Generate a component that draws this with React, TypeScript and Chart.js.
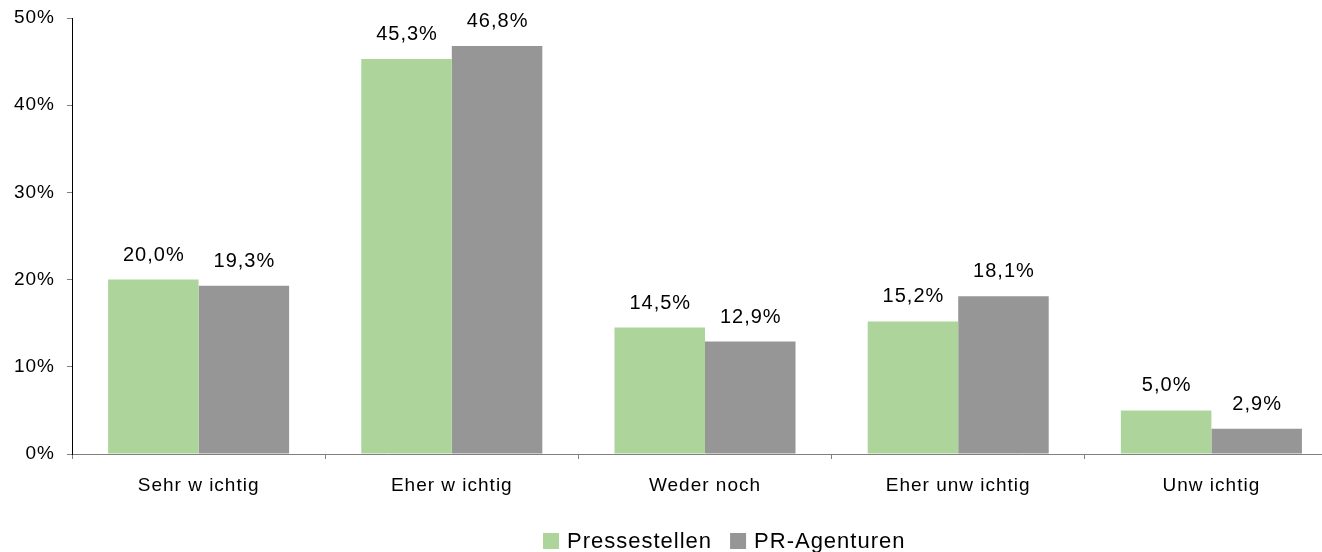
import React, { useEffect, useRef } from "react";
import { Chart, registerables } from "chart.js";
Chart.register(...registerables);

const categories = ["Sehr w ichtig", "Eher w ichtig", "Weder noch", "Eher unw ichtig", "Unw ichtig"];
const seriesNames = ["Pressestellen", "PR-Agenturen"];
const pressestellen = [20.0, 45.3, 14.5, 15.2, 5.0];
const prAgenturen = [19.3, 46.8, 12.9, 18.1, 2.9];
const yMax = 50;
const yStep = 10;

const FONT = "'Liberation Sans', Arial, sans-serif";
const GREEN = "#add59b";
const GRAY = "#969696";

const fmt = (v: number) => v.toFixed(1).replace(".", ",") + "%";

const spacing = {
  id: "spacing",
  beforeDraw(chart: any) {
    (chart.ctx as any).letterSpacing = "1px";
  },
  afterDraw(chart: any) {
    (chart.ctx as any).letterSpacing = "0px";
  },
};

const valueLabels = {
  id: "valueLabels",
  afterDatasetsDraw(chart: any) {
    const ctx = chart.ctx;
    ctx.save();
    ctx.font = `20px ${FONT}`;
    (ctx as any).letterSpacing = "1px";
    ctx.fillStyle = "#000";
    ctx.textAlign = "center";
    ctx.textBaseline = "alphabetic";
    chart.data.datasets.forEach((ds: any, i: number) => {
      const meta = chart.getDatasetMeta(i);
      meta.data.forEach((el: any, j: number) => {
        ctx.fillText(fmt(ds.data[j]), el.x + 0.5, el.y - 19);
      });
    });
    ctx.restore();
  },
};

const customLegend = {
  id: "customLegend",
  afterDraw(chart: any) {
    const ctx = chart.ctx;
    ctx.save();
    ctx.font = `22px ${FONT}`;
    (ctx as any).letterSpacing = "1px";
    ctx.textBaseline = "middle";
    ctx.textAlign = "left";
    let x = 543;
    const cy = 541;
    chart.data.datasets.forEach((ds: any) => {
      ctx.fillStyle = ds.backgroundColor;
      ctx.fillRect(x, cy - 8, 16, 16);
      ctx.fillStyle = "#000";
      ctx.fillText(ds.label, x + 24, cy + 1);
      x += 24 + ctx.measureText(ds.label).width + 18;
    });
    ctx.restore();
  },
};

export default function App() {
  const ref = useRef<HTMLCanvasElement>(null);
  useEffect(() => {
    if (!ref.current) return;
    const chart = new Chart(ref.current, {
      type: "bar",
      data: {
        labels: categories,
        datasets: [
          { label: seriesNames[0], data: pressestellen, backgroundColor: GREEN, borderWidth: 0 },
          { label: seriesNames[1], data: prAgenturen, backgroundColor: GRAY, borderWidth: 0 },
        ],
      },
      options: {
        responsive: false,
        animation: false,
        devicePixelRatio: 1,
        layout: { padding: { top: 18, right: 2, left: 0, bottom: 38 } },
        plugins: { legend: { display: false }, tooltip: { enabled: false } },
        datasets: { bar: { categoryPercentage: 0.715, barPercentage: 1 } },
        scales: {
          x: {
            offset: true,
            grid: { drawOnChartArea: false, offset: true, tickLength: 5, color: "#808080" },
            border: { color: "#808080", width: 1 },
            ticks: { color: "#000", font: { family: FONT, size: 19 }, padding: 15, maxRotation: 0 },
            afterFit: (s: any) => { s.height = 60; s.paddingLeft = 0; s.paddingRight = 0; },
          },
          y: {
            min: 0,
            max: yMax,
            grid: { drawOnChartArea: false, tickLength: 5, color: "#808080" },
            border: { color: "#000", width: 1 },
            ticks: {
              stepSize: yStep,
              color: "#000",
              font: { family: FONT, size: 19 },
              padding: 12,
              callback: (v: any) => v + "%",
            },
            afterFit: (s: any) => { s.width = 72; s.paddingTop = 0; s.paddingBottom = 0; },
          },
        },
      },
      plugins: [spacing, valueLabels, customLegend],
    });
    return () => chart.destroy();
  }, []);
  return (
    <div style={{ position: "fixed", left: 0, top: 0, width: 1322, height: 552, overflow: "hidden", background: "#fff" }}>
      <canvas ref={ref} width={1340} height={552} style={{ width: 1340, height: 552, display: "block" }} />
    </div>
  );
}
